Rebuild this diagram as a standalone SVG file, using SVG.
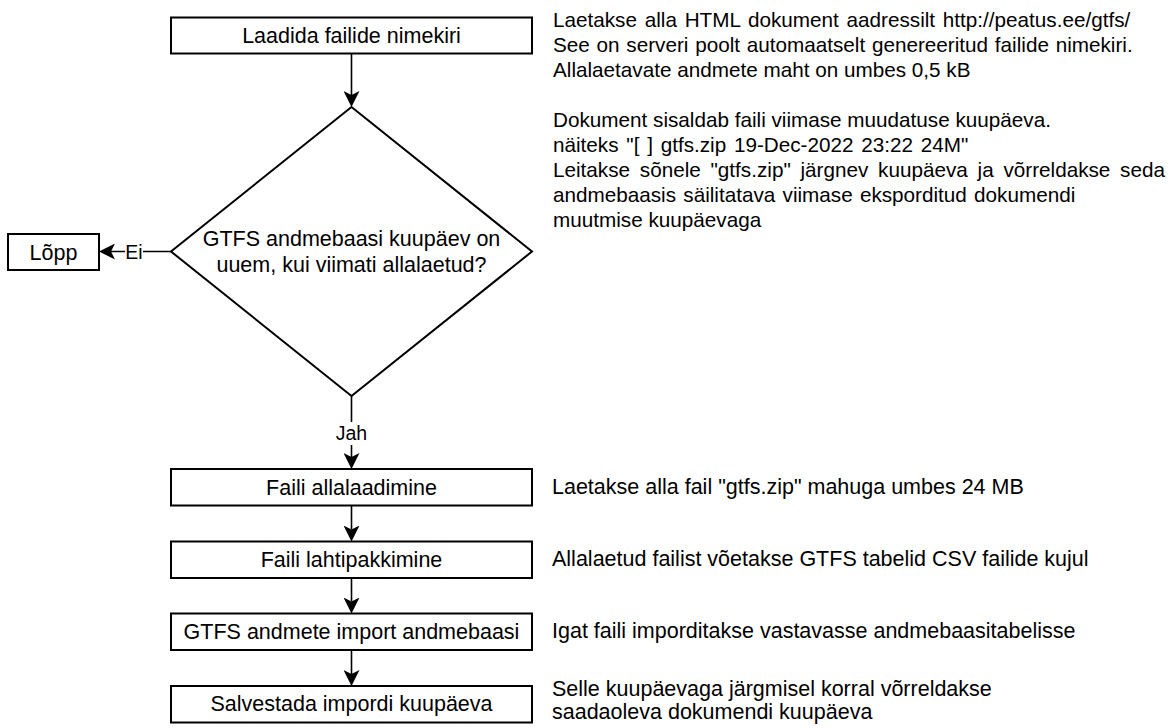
<svg xmlns="http://www.w3.org/2000/svg" width="1173" height="728" viewBox="0 0 1173 728">
  <defs>
    <style>
      .box { fill: #ffffff; stroke: #000000; stroke-width: 2; }
      .edge { fill: none; stroke: #000000; stroke-width: 1.6; marker-end: url(#arrow); }
      text { font-family: "Liberation Sans", Arial, Helvetica, sans-serif; font-size: 21.5px; fill: #000000; }
      .c { text-anchor: middle; }
      .note { text-anchor: start; }
      .small { font-size: 20.7px; }
      .lbl { font-size: 19.5px; }
      .lbl-bg { fill: #ffffff; stroke: none; }
    </style>
    <!-- classic notched arrowhead, 16 long x 16 wide -->
    <marker id="arrow" markerUnits="userSpaceOnUse" markerWidth="16" markerHeight="16" refX="4" refY="8" orient="auto">
      <path d="M0,0 L16,8 L0,16 L4,8 Z" fill="#000000"/>
    </marker>
  </defs>

  <rect width="1173" height="728" fill="#ffffff"/>

  <!-- connectors -->
  <g id="connectors">
    <line class="edge" x1="351.5" y1="53.5" x2="351.5" y2="95"/>
    <line class="edge" x1="171" y1="251.5" x2="111" y2="251.5"/>
    <line class="edge" x1="351.5" y1="396" x2="351.5" y2="457"/>
    <line class="edge" x1="351.5" y1="505.5" x2="351.5" y2="529.5"/>
    <line class="edge" x1="351.5" y1="578" x2="351.5" y2="601.5"/>
    <line class="edge" x1="351.5" y1="650" x2="351.5" y2="674"/>
    <!-- edge labels -->
    <g id="label-ei">
      <rect class="lbl-bg" x="125" y="241" width="18" height="21"/>
      <text class="c lbl" x="134" y="259">Ei</text>
    </g>
    <g id="label-jah">
      <rect class="lbl-bg" x="335" y="422" width="33" height="23"/>
      <text class="c lbl" x="351.5" y="439.5">Jah</text>
    </g>
  </g>

  <g id="node-list">
    <rect class="box" x="171" y="17.5" width="361" height="36"/>
    <text class="c" x="351.5" y="42.5">Laadida failide nimekiri</text>
  </g>

  <g id="node-decision">
    <polygon class="box" points="351.5,107 532,251.5 351.5,396 171,251.5"/>
    <text class="c" x="351.5" y="245.5">GTFS andmebaasi kuupäev on</text>
    <text class="c" x="351.5" y="272">uuem, kui viimati allalaetud?</text>
  </g>

  <g id="node-end">
    <rect class="box" x="8" y="234" width="91" height="36"/>
    <text class="c" x="53.5" y="259.5">Lõpp</text>
  </g>

  <g id="node-download">
    <rect class="box" x="171" y="469" width="361" height="36.5"/>
    <text class="c" x="351.5" y="494.5">Faili allalaadimine</text>
  </g>

  <g id="node-unzip">
    <rect class="box" x="171" y="541.5" width="361" height="36.5"/>
    <text class="c" x="351.5" y="566.5">Faili lahtipakkimine</text>
  </g>

  <g id="node-import">
    <rect class="box" x="171" y="613.5" width="361" height="36.5"/>
    <text class="c" x="351.5" y="638.5">GTFS andmete import andmebaasi</text>
  </g>

  <g id="node-save">
    <rect class="box" x="171" y="686" width="361" height="36.5"/>
    <text class="c" x="351.5" y="711">Salvestada impordi kuupäeva</text>
  </g>

  <!-- side notes -->
  <g id="note-list" class="small">
    <text class="note small" x="553" y="27" word-spacing="2">Laetakse alla HTML dokument aadressilt http://peatus.ee/gtfs/</text>
    <text class="note small" x="553" y="52" word-spacing="1">See on serveri poolt automaatselt genereeritud failide nimekiri.</text>
    <text class="note small" x="553" y="77">Allalaetavate andmete maht on umbes 0,5 kB</text>
    <text class="note small" x="553" y="127">Dokument sisaldab faili viimase muudatuse kuupäeva.</text>
    <text class="note small" x="553" y="152" word-spacing="2">näiteks "[ ] gtfs.zip 19-Dec-2022 23:22 24M"</text>
    <text class="note small" x="553" y="177" word-spacing="4">Leitakse sõnele "gtfs.zip" järgnev kuupäeva ja võrreldakse seda</text>
    <text class="note small" x="553" y="202" word-spacing="1.5">andmebaasis säilitatava viimase eksporditud dokumendi</text>
    <text class="note small" x="553" y="227">muutmise kuupäevaga</text>
  </g>
  <g id="note-download">
    <text class="note" x="552" y="493.5">Laetakse alla fail "gtfs.zip" mahuga umbes 24 MB</text>
  </g>
  <g id="note-unzip">
    <text class="note" x="552" y="565.5">Allalaetud failist võetakse GTFS tabelid CSV failide kujul</text>
  </g>
  <g id="note-import">
    <text class="note" x="552" y="637.5">Igat faili imporditakse vastavasse andmebaasitabelisse</text>
  </g>
  <g id="note-save">
    <text class="note" x="552" y="695.5">Selle kuupäevaga järgmisel korral võrreldakse</text>
    <text class="note" x="552" y="719">saadaoleva dokumendi kuupäeva</text>
  </g>
</svg>
